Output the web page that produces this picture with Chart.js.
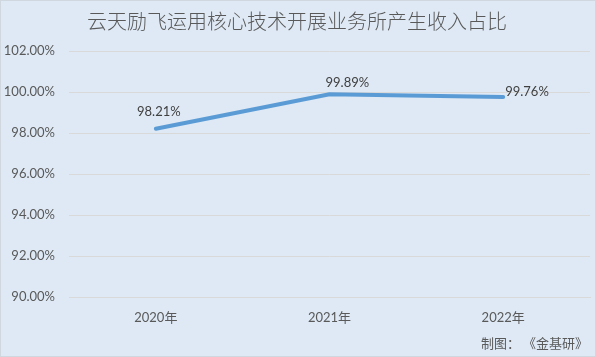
<!DOCTYPE html>
<html><head><meta charset="utf-8">
<script src="https://cdn.jsdelivr.net/npm/chart.js@4/dist/chart.umd.min.js"></script>
<style>html,body{margin:0;padding:0;background:#dee9f5;}#wrap{width:596px;height:357px;}</style>
</head><body><div id="wrap"><canvas id="c" width="596" height="357"></canvas></div>
<script>
const title = '云天励飞运用核心技术开展业务所产生收入占比';
const categories = ['2020年', '2021年', '2022年'];
const shareValues = [98.21, 99.89, 99.76];
const yTicks = [90, 92, 94, 96, 98, 100, 102];
const footer = '制图： 《金基研》';

const FONT = "Lato, 'Noto Sans CJK SC', sans-serif";
const TXT = '#595959';

const labelPos = [
  {dx: 3, dy: -17, align: 'center'},
  {dx: -4, dy: -11, align: 'left'},
  {dx: 2, dy: -5, align: 'left'}
];

const deco = {
  id: 'deco',
  beforeDraw(chart) {
    const ctx = chart.ctx;
    ctx.save();
    ctx.fillStyle = '#dee9f5';
    ctx.fillRect(0, 0, chart.width, chart.height);
    ctx.restore();
  },
  afterDraw(chart) {
    const ctx = chart.ctx;
    ctx.save();
    ctx.fillStyle = TXT;
    ctx.textBaseline = 'middle';
    ctx.textAlign = 'center';
    ctx.font = "300 20px 'Noto Sans CJK SC', sans-serif";
    ctx.fillText(title, 297, 21);
    ctx.font = "13px 'Noto Sans CJK SC', sans-serif";
    ctx.textAlign = 'right';
    ctx.fillText(footer, 588, 343);
    // data labels
    ctx.fillStyle = '#404040';
    ctx.font = "13px " + FONT;
    const meta = chart.getDatasetMeta(0);
    meta.data.forEach((pt, i) => {
      const p = labelPos[i];
      ctx.textAlign = p.align;
      ctx.fillText(shareValues[i].toFixed(2) + '%', pt.x + p.dx, pt.y + p.dy);
    });
    ctx.strokeStyle = '#d0d7df';
    ctx.lineWidth = 1;
    ctx.strokeRect(0.5, 0.5, chart.width - 1, chart.height - 1);
    ctx.restore();
  }
};

new Chart(document.getElementById('c'), {
  type: 'line',
  data: {
    labels: categories,
    datasets: [{
      data: shareValues,
      borderColor: '#5b9bd5',
      borderWidth: 4,
      pointRadius: 0,
      tension: 0,
      borderCapStyle: 'round',
      borderJoinStyle: 'round',
      fill: false
    }]
  },
  options: {
    responsive: false,
    animation: false,
    devicePixelRatio: 1,
    layout: {padding: {top: 51, right: 6, bottom: 0, left: 0}},
    plugins: {legend: {display: false}, tooltip: {enabled: false}, title: {display: false}},
    scales: {
      x: {
        offset: true,
        grid: {display: false, drawTicks: false},
        border: {display: true, color: '#d9d9d9'},
        ticks: {color: TXT, font: {family: FONT, size: 13}, padding: 13},
        afterFit(s) { s.height = 60; }
      },
      y: {
        min: 90, max: 102,
        afterBuildTicks(s) { s.ticks = yTicks.map(v => ({value: v})); },
        grid: {color: '#d9d9d9', drawTicks: false},
        border: {display: false},
        ticks: {color: TXT, font: {family: FONT, size: 13}, padding: 14,
          callback: v => Number(v).toFixed(2) + '%'},
        afterFit(s) { s.width = 69; }
      }
    }
  },
  plugins: [deco]
});
</script></body></html>
